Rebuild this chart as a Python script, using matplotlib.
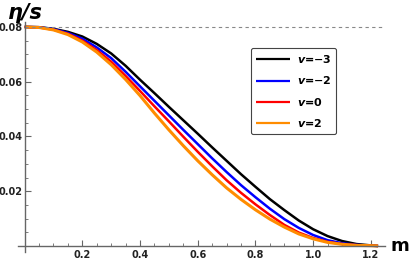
import numpy as np
import matplotlib
matplotlib.use('Agg')
import matplotlib.pyplot as plt
from matplotlib.ticker import MultipleLocator, FixedLocator

# values
m = [0.0, 0.05, 0.1, 0.15, 0.2, 0.25, 0.3, 0.35, 0.4, 0.45, 0.5, 0.55, 0.6,
     0.65, 0.7, 0.75, 0.8, 0.85, 0.9, 0.95, 1.0, 1.05, 1.1, 1.15, 1.2, 1.225]
eta_v_m3 = [.0800, .0799, .0793, .0782, .0765, .0738, .0703, .0658, .0607, .0558, .0508, .0459, .0410,
            .0360, .0311, .0262, .0216, .0171, .0131, .0093, .0061, .0036, .0018, .0007, .0002, 0.0]
eta_v_m2 = [.0800, .0799, .0792, .0778, .0757, .0725, .0686, .0636, .0583, .0530, .0477, .0424, .0372,
            .0320, .0270, .0222, .0178, .0136, .0098, .0066, .0040, .0021, .0010, .0004, .0001, 0.0]
eta_v_0 = [.0800, .0798, .0790, .0775, .0750, .0715, .0673, .0621, .0566, .0510, .0455, .0399, .0344,
           .0291, .0240, .0194, .0152, .0113, .0077, .0049, .0029, .0015, .0007, .0003, .0001, 0.0]
eta_v_2 = [.0800, .0798, .0789, .0772, .0745, .0708, .0662, .0608, .0549, .0485, .0424, .0366, .0311,
           .0260, .0212, .0170, .0132, .0098, .0069, .0044, .0026, .0013, .0006, .0002, .0001, 0.0]
labels = [r'$\mathbfit{v}$=−3', r'$\mathbfit{v}$=−2', r'$\mathbfit{v}$=0', r'$\mathbfit{v}$=2']
colors = ['black', '#0000ff', '#ff0000', '#ff8c00']
eta_bound = 0.08

fig = plt.figure(figsize=(4.09, 2.63), dpi=100)
ax = fig.add_axes([18/409, 1-251.7/263, 367/409, 229.7/263])

series = [eta_v_m3, eta_v_m2, eta_v_0, eta_v_2]
widths = [1.8, 1.8, 1.8, 2.2]
for ys, c, lab, lw in zip(series, colors, labels, widths):
    ax.plot(m, ys, color=c, lw=lw, label=lab, solid_capstyle='butt', solid_joinstyle='round')

ax.axhline(eta_bound, xmin=0.02, color='#888888', lw=0.8, ls=(0, (3, 3)))

ax.set_xlim(-0.023, 1.249)
ax.set_ylim(-0.0021, 0.0818)

for s in ['top', 'right']:
    ax.spines[s].set_visible(False)
ax.spines['left'].set_position(('data', 0))
ax.spines['bottom'].set_position(('data', 0))
for s in ['left', 'bottom']:
    ax.spines[s].set_color('#666666')
    ax.spines[s].set_linewidth(1.0)

ax.xaxis.set_major_locator(FixedLocator([0.2, 0.4, 0.6, 0.8, 1.0, 1.2]))
ax.xaxis.set_minor_locator(MultipleLocator(0.05))
ax.yaxis.set_major_locator(FixedLocator([0.02, 0.04, 0.06, 0.08]))
ax.yaxis.set_minor_locator(MultipleLocator(0.005))
ax.tick_params(which='both', direction='in', color='#666666')
ax.tick_params(which='major', length=4, width=0.8, labelsize=7, labelcolor='#222222')
ax.tick_params(which='minor', length=2.2, width=0.6)
ax.tick_params(axis='x', which='major', pad=3)
ax.tick_params(axis='y', which='major', pad=1.2)
ax.set_xticklabels(['0.2', '0.4', '0.6', '0.8', '1.0', '1.2'], fontweight='bold')
ax.set_yticklabels(['0.02', '0.04', '0.06', '0.08'], fontweight='bold')

fig.text(8/409, 1-13/263, 'η/s', fontsize=15, fontweight='bold', fontstyle='italic', va='center', ha='left')
fig.text(391/409, 1-246/263, 'm', fontsize=13, fontweight='bold', va='center', ha='left')

leg = ax.legend(loc='upper left', bbox_to_anchor=(251/409, 1-48/263), bbox_transform=fig.transFigure,
                borderaxespad=0, frameon=True, fancybox=True, edgecolor='#444444', framealpha=1,
                prop={'weight': 'bold', 'size': 8}, handlelength=3.05, labelspacing=0.85,
                borderpad=0.45, handletextpad=0.6)
leg.get_frame().set_linewidth(0.8)
for line in leg.get_lines():
    line.set_linewidth(1.6)

fig.savefig('out.png', dpi=100)
